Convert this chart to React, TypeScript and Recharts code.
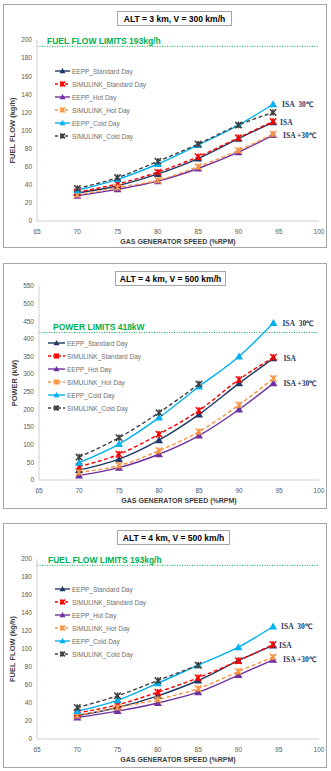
import React from 'react';
import { LineChart, Line, XAxis, YAxis, ReferenceLine, ReferenceDot, Legend } from 'recharts';

// ---------- data ----------
const speedRpm = [70, 75, 80, 85, 90, 94.3];
const xTicks = [65, 70, 75, 80, 85, 90, 95, 100];
const fuelTicks = [0, 20, 40, 60, 80, 100, 120, 140, 160, 180, 200];
const powerTicks = [0, 50, 100, 150, 200, 250, 300, 350, 400, 450, 500, 550];

const seriesNames = [
  'EEPP_Standard Day',
  'SIMULINK_Standard Day',
  'EEPP_Hot Day',
  'SIMULINK_Hot Day',
  'EEPP_Cold Day',
  'SIMULINK_Cold Day',
];

// Panel 1: fuel flow, ALT 3 km, V 300 km/h
const ff1EeppStd = [31, 39, 52, 69, 91, 109];
const ff1SimStd = [32, 41, 54, 71, 92, 110];
const ff1EeppHot = [28, 35, 44, 58, 76, 95];
const ff1SimHot = [29, 37, 45, 60, 78, 96];
const ff1EeppCold = [34, 46, 63, 84, 106, 129];
const ff1SimCold = [36, 48, 66, 85, 106, 120];

// Panel 2: power, ALT 4 km, V 500 km/h
const pw2EeppStd = [28, 59, 113, 186, 274, 345];
const pw2SimStd = [38, 73, 130, 197, 285, 348];
const pw2EeppHot = [13, 35, 73, 126, 200, 274];
const pw2SimHot = [22, 41, 83, 137, 213, 288];
const pw2EeppCold = [49, 102, 177, 265, 350, 445];
const pw2SimCold = [65, 120, 191, 272, null, null];

// Panel 3: fuel flow, ALT 4 km, V 500 km/h
const ff3EeppStd = [26, 35, 48, 65, 87, 104];
const ff3SimStd = [29, 38, 52, 68, 87, 105];
const ff3EeppHot = [24, 31, 40, 52, 71, 88];
const ff3SimHot = [26, 35, 44, 56, 75, 91];
const ff3EeppCold = [31, 43, 62, 82, 102, 125];
const ff3SimCold = [35, 48, 65, 82, null, null];

const fuelLimit = 193;
const powerLimit = 418;

const titles = ['ALT = 3 km, V = 300 km/h', 'ALT = 4 km, V = 500 km/h', 'ALT = 4 km, V = 500 km/h'];
const yLabels = ['FUEL FLOW (kg/h)', 'POWER (kW)', 'FUEL FLOW (kg/h)'];
const limitLabels = ['FUEL FLOW LIMITS 193kg/h', 'POWER LIMITS 418kW', 'FUEL FLOW LIMITS 193kg/h'];
const xLabel = 'GAS GENERATOR SPEED (%RPM)';
const isaLabels = ['ISA\u00a0\u00a030\u2103', 'ISA', 'ISA +30\u2103'];

// ---------- styles ----------
type SeriesStyle = { color: string; dash?: string; marker: 'tri' | 'star' };
const seriesStyle: SeriesStyle[] = [
  { color: '#1F3864', marker: 'tri' },
  { color: '#FF0000', dash: '4 2.5', marker: 'star' },
  { color: '#7030A0', marker: 'tri' },
  { color: '#F79646', dash: '4 2.5', marker: 'star' },
  { color: '#00B0F0', marker: 'tri' },
  { color: '#404040', dash: '4 2.5', marker: 'star' },
];

const FONT = '"Liberation Sans", Arial, sans-serif';
const AXIS_GRAY = '#D0D0D0';
const TICK_GRAY = '#595959';
const ISA_COLOR = '#1F3864';
const LIMIT_COLOR = '#00B050';

function marker(cx: number, cy: number, st: SeriesStyle, s: number, key?: string) {
  if (st.marker === 'tri') {
    return (
      <path
        key={key}
        d={`M${cx},${cy - 4 * s}L${cx + 4 * s},${cy + 3 * s}L${cx - 4 * s},${cy + 3 * s}Z`}
        fill={st.color}
      />
    );
  }
  const r = 3.2 * s;
  return (
    <path
      key={key}
      d={`M${cx - r},${cy - r}L${cx + r},${cy + r}M${cx - r},${cy + r}L${cx + r},${cy - r}M${cx},${cy - r}L${cx},${cy + r}`}
      stroke={st.color}
      strokeWidth={1.5}
      fill="none"
    />
  );
}

function buildRows(cols: (number | null)[][]) {
  return speedRpm.map((x, i) => {
    const row: Record<string, number | null> = { x };
    cols.forEach((c, k) => {
      row[`s${k}`] = c[i];
    });
    return row;
  });
}

const makeLegend = (lineLen: number) => () => (
  <div style={{ fontFamily: FONT }}>
    {seriesNames.map((name, k) => {
      const st = seriesStyle[k];
      return (
        <div key={name} style={{ display: 'flex', alignItems: 'center', height: 13 }}>
          <svg width={lineLen} height={10} style={{ display: 'block' }}>
            <line
              x1={0}
              y1={5}
              x2={lineLen}
              y2={5}
              stroke={st.color}
              strokeWidth={1.4}
              strokeDasharray={st.dash ? '3 2' : undefined}
            />
            {marker(lineLen / 2, 5, st, 0.75)}
          </svg>
          <span style={{ fontSize: 6.5, color: '#6F6F6F', marginLeft: 2, lineHeight: '13px', whiteSpace: 'nowrap' }}>
            {name}
          </span>
        </div>
      );
    })}
  </div>
);

type PanelProps = {
  idx: number;
  top: number;
  height: number;
  margin: { top: number; right: number; bottom: number; left: number };
  cols: (number | null)[][];
  yTicks: number[];
  limit: number;
  limitDx: number;
  legendTop: number;
  legendLeft: number;
  legendLine: number;
  isaDx: number[];
};

function ChartPanel(p: PanelProps) {
  const rows = buildRows(p.cols);
  const yMax = p.yTicks[p.yTicks.length - 1];
  const last = speedRpm.length - 1;
  const isaAnchors = [p.cols[4][last] as number, p.cols[0][last] as number, p.cols[2][last] as number];

  const yLabelContent = (lp: any) => {
    const vb = lp.viewBox || {};
    const cx = vb.x + 5;
    const cy = vb.y + vb.height / 2;
    return (
      <text
        x={cx}
        y={cy}
        transform={`rotate(-90, ${cx}, ${cy})`}
        textAnchor="middle"
        dominantBaseline="central"
        fontSize={7.5}
        fontWeight="bold"
        fill="#404040"
        fontFamily={FONT}
      >
        {yLabels[p.idx]}
      </text>
    );
  };

  const xLabelContent = (lp: any) => {
    const vb = lp.viewBox || {};
    return (
      <text
        x={vb.x + vb.width / 2}
        y={vb.y + 20}
        textAnchor="middle"
        dominantBaseline="central"
        fontSize={7}
        fontWeight="bold"
        fill="#404040"
        fontFamily={FONT}
      >
        {xLabel}
      </text>
    );
  };

  const limitContent = (lp: any) => {
    const vb = lp.viewBox || {};
    return (
      <text
        x={vb.x + p.limitDx}
        y={vb.y - 2.5}
        textAnchor="start"
        fontSize={8.5}
        fontWeight="bold"
        fill={LIMIT_COLOR}
        fontFamily={FONT}
      >
        {limitLabels[p.idx]}
      </text>
    );
  };

  const isaContent = (k: number) => (lp: any) => {
    const vb = lp.viewBox || {};
    return (
      <text
        x={vb.x + p.isaDx[k]}
        y={vb.y}
        textAnchor="start"
        dominantBaseline="central"
        fontSize={7.5}
        fontWeight="bold"
        fill={ISA_COLOR}
        fontFamily='"Liberation Serif", "Times New Roman", serif'
      >
        {isaLabels[k]}
      </text>
    );
  };

  return (
    <div style={{ position: 'absolute', left: 0, top: p.top, width: 331, height: p.height }}>
      <LineChart width={331} height={p.height} data={rows} margin={p.margin}>
        <XAxis
          type="number"
          dataKey="x"
          domain={[65, 100]}
          ticks={xTicks}
          interval={0}
          allowDataOverflow
          tickLine={false}
          axisLine={{ stroke: AXIS_GRAY }}
          tick={{ fontSize: 6.5, fill: TICK_GRAY, fontFamily: FONT }}
          height={24}
          label={xLabelContent}
        />
        <YAxis
          type="number"
          domain={[0, yMax]}
          ticks={p.yTicks}
          interval={0}
          allowDataOverflow
          tickLine={false}
          tickSize={3}
          axisLine={{ stroke: AXIS_GRAY }}
          tick={{ fontSize: 6.5, fill: TICK_GRAY, fontFamily: FONT }}
          width={30}
          label={yLabelContent}
        />
        <ReferenceLine
          y={p.limit}
          stroke={LIMIT_COLOR}
          strokeDasharray="1 1.5"
          strokeWidth={1}
          label={limitContent}
        />
        {seriesNames.map((name, k) => {
          const st = seriesStyle[k];
          return (
            <Line
              key={name}
              dataKey={`s${k}`}
              name={name}
              type="monotone"
              stroke={st.color}
              strokeWidth={1.4}
              strokeDasharray={st.dash}
              connectNulls={false}
              isAnimationActive={false}
              activeDot={false}
              dot={(dp: any) => {
                const { cx, cy, index } = dp;
                if (cx == null || cy == null || Number.isNaN(cy) || dp.value == null) {
                  return <g key={`e${k}-${index}`} />;
                }
                return marker(cx, cy, st, 1, `m${k}-${index}`);
              }}
            />
          );
        })}
        {isaAnchors.map((yv, k) => (
          <ReferenceDot
            key={`isa${k}`}
            x={speedRpm[last]}
            y={yv}
            r={0}
            fill="none"
            stroke="none"
            label={isaContent(k)}
          />
        ))}
        <Legend
          layout="vertical"
          align="center"
          verticalAlign="middle"
          wrapperStyle={{ top: p.legendTop, left: p.legendLeft, width: 'auto', height: 'auto' }}
          content={makeLegend(p.legendLine)}
        />
      </LineChart>
    </div>
  );
}

const frameStyle = (top: number, height: number): React.CSSProperties => ({
  position: 'absolute',
  left: 3,
  top,
  width: 324,
  height,
  border: '1px solid #A6A6A6',
  boxSizing: 'border-box',
  background: '#fff',
});

const titleStyle = (left: number, top: number, width: number, height: number): React.CSSProperties => ({
  position: 'absolute',
  left,
  top,
  width,
  height,
  border: '1px solid #A6A6A6',
  boxSizing: 'border-box',
  background: '#fff',
  fontFamily: FONT,
  fontSize: 8.5,
  fontWeight: 'bold',
  color: '#000',
  display: 'flex',
  alignItems: 'center',
  justifyContent: 'center',
  whiteSpace: 'nowrap',
  zIndex: 2,
});

export default function App() {
  return (
    <div
      style={{
        position: 'absolute',
        left: 0,
        top: 0,
        width: 331,
        height: 771,
        background: '#fff',
        fontFamily: FONT,
        overflow: 'hidden',
      }}
    >
      <div style={frameStyle(4, 244)} />
      <div style={frameStyle(263, 246)} />
      <div style={frameStyle(523, 245)} />

      <ChartPanel
        idx={0}
        top={0}
        height={250}
        margin={{ top: 40, right: 12, bottom: 5, left: 7 }}
        cols={[ff1EeppStd, ff1SimStd, ff1EeppHot, ff1SimHot, ff1EeppCold, ff1SimCold]}
        yTicks={fuelTicks}
        limit={fuelLimit}
        limitDx={10}
        legendTop={64.5}
        legendLeft={55}
        legendLine={15}
        isaDx={[9, 7, 10]}
      />
      <ChartPanel
        idx={1}
        top={250}
        height={260}
        margin={{ top: 36, right: 12, bottom: 6, left: 9 }}
        cols={[pw2EeppStd, pw2SimStd, pw2EeppHot, pw2SimHot, pw2EeppCold, pw2SimCold]}
        yTicks={powerTicks}
        limit={powerLimit}
        limitDx={14}
        legendTop={86.5}
        legendLeft={48}
        legendLine={17}
        isaDx={[9, 10, 10]}
      />
      <ChartPanel
        idx={2}
        top={510}
        height={261}
        margin={{ top: 49, right: 12, bottom: 8, left: 7 }}
        cols={[ff3EeppStd, ff3SimStd, ff3EeppHot, ff3SimHot, ff3EeppCold, ff3SimCold]}
        yTicks={fuelTicks}
        limit={fuelLimit}
        limitDx={11}
        legendTop={72.5}
        legendLeft={55}
        legendLine={15}
        isaDx={[8, 6, 10]}
      />

      <div style={titleStyle(117, 11, 115, 15)}>{titles[0]}</div>
      <div style={titleStyle(115, 271, 111, 15)}>{titles[1]}</div>
      <div style={titleStyle(117, 530, 113, 15)}>{titles[2]}</div>
    </div>
  );
}
